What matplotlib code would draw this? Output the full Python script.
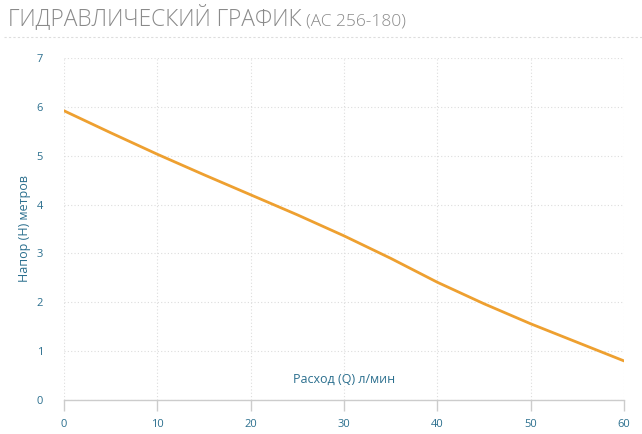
import matplotlib
matplotlib.use("Agg")
from matplotlib import pyplot as plt
from matplotlib.lines import Line2D

plt.rcParams['font.family'] = ['Open Sans', 'DejaVu Sans']

# values
flow = [0, 5, 10, 15, 20, 25, 30, 35, 40, 45, 50, 55, 60]
head = [5.92, 5.47, 5.03, 4.61, 4.2, 3.79, 3.36, 2.9, 2.41, 1.97, 1.56, 1.18, 0.8]
x_ticks = [0, 10, 20, 30, 40, 50, 60]
y_ticks = [0, 1, 2, 3, 4, 5, 6, 7]

blue = '#2b6f8e'
orange = '#eea030'
grid_col = '#dddddd'

fig = plt.figure(figsize=(6.42, 4.34), dpi=100)
ax = fig.add_axes([64 / 642, 34 / 434, 560 / 642, 342 / 434])

ax.plot(flow, head, color=orange, lw=2, solid_capstyle='round')
ax.set_xlim(0, 60)
ax.set_ylim(0, 7)
ax.set_xticks(x_ticks)
ax.set_yticks(y_ticks)

for s in ['top', 'right', 'left']:
    ax.spines[s].set_visible(False)
ax.spines['bottom'].set_color('#cccccc')
ax.spines['bottom'].set_linewidth(1)

ax.grid(True, color=grid_col, linestyle=(0, (1, 2)), linewidth=0.8)
ax.set_axisbelow(True)
ax.tick_params(axis='x', colors='#cccccc', labelcolor=blue, length=8, width=1,
               pad=6, labelsize=8)
ax.tick_params(axis='y', length=0, labelcolor=blue, pad=15, labelsize=8)

ax.text(0.5, 14 / 342, 'Расход (Q) л/мин', transform=ax.transAxes, ha='center',
        va='bottom', color=blue, fontsize=9)
ax.set_ylabel('Напор (H) метров', color=blue, fontsize=9, labelpad=4)

# title in two parts
t1 = fig.text(8 / 642, 1 - 25 / 434, 'ГИДРАВЛИЧЕСКИЙ ГРАФИК', color='#8a8a8a',
              fontsize=16.4, fontweight='light', va='baseline')
fig.canvas.draw()
bb = t1.get_window_extent()
fig.text(bb.x1 / 642 + 4 / 642, 1 - 25 / 434, '(AC 256-180)', color='#8a8a8a',
         fontsize=12.5, fontweight='light', va='baseline')

fig.add_artist(Line2D([4 / 642, 1], [1 - 37 / 434, 1 - 37 / 434],
                      transform=fig.transFigure, color='#dddddd',
                      linestyle=(0, (2, 2)), linewidth=0.8))

fig.savefig('out.png', dpi=100)
